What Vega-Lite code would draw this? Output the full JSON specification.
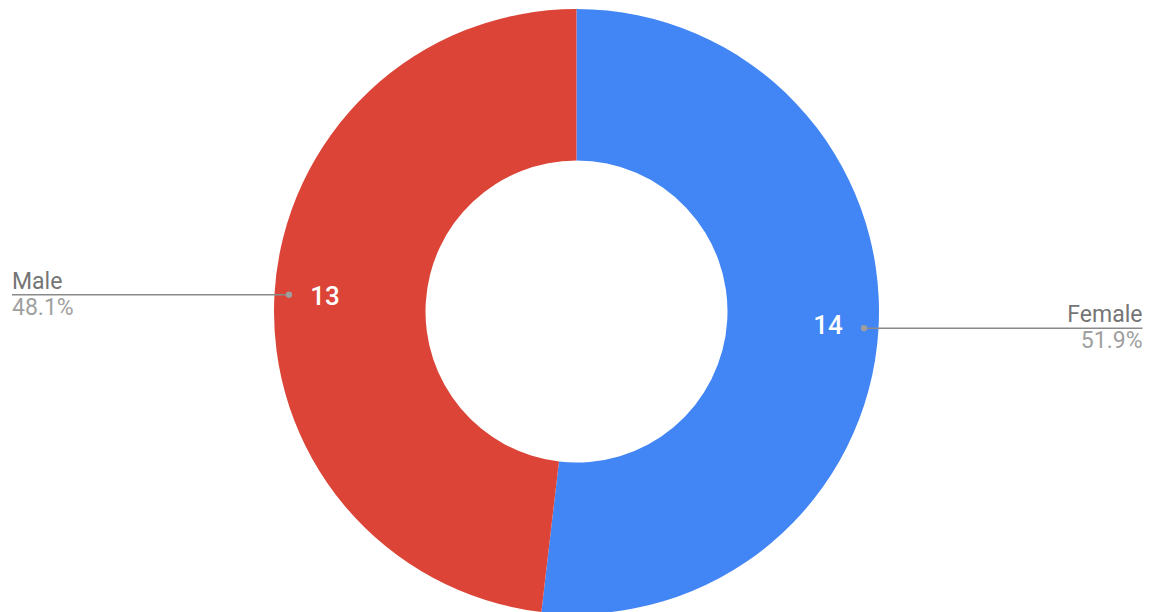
{
  "$schema": "https://vega.github.io/schema/vega-lite/v6.json",
  "width": 1153,
  "height": 601,
  "autosize": {"type": "none"},
  "padding": {"top": 11, "left": 0, "right": 0, "bottom": 0},
  "background": "white",
  "config": {"view": {"stroke": null}, "font": "Roboto"},
  "data": {
    "values": [
      {"gender": "Female", "count": 14, "pct": "51.9%"},
      {"gender": "Male", "count": 13, "pct": "48.1%"}
    ]
  },
  "layer": [
    {
      "mark": {"type": "arc", "innerRadius": 151, "outerRadius": 302.5},
      "encoding": {
        "theta": {"field": "count", "type": "quantitative", "stack": true},
        "color": {
          "field": "gender",
          "type": "nominal",
          "scale": {"domain": ["Female", "Male"], "range": ["#4285F4", "#DB4437"]},
          "legend": null
        },
        "order": {"field": "gender", "sort": "ascending"}
      }
    },
    {
      "transform": [
        {"joinaggregate": [{"op": "sum", "field": "count", "as": "total"}]},
        {"window": [{"op": "sum", "field": "count", "as": "cum"}], "sort": [{"field": "gender", "order": "ascending"}], "frame": [null, 0]},
        {"calculate": "(datum.cum - datum.count / 2) / datum.total * 2 * PI", "as": "mid"},
        {"calculate": "288 * sin(datum.mid)", "as": "dotx"},
        {"calculate": "288 * cos(datum.mid)", "as": "doty"},
        {"calculate": "252 * sin(datum.mid)", "as": "labx"},
        {"calculate": "252 * cos(datum.mid)", "as": "laby"},
        {"calculate": "sin(datum.mid) > 0 ? 566 : -564.5", "as": "edgex"}
      ],
      "layer": [
        {
          "mark": {"type": "rule", "color": "#8a8a8a", "strokeWidth": 1.5},
          "encoding": {
            "x": {"field": "dotx", "type": "quantitative", "scale": {"domain": [-576.5, 576.5], "nice": false, "zero": false}, "axis": null},
            "x2": {"field": "edgex"},
            "y": {"field": "doty", "type": "quantitative", "scale": {"domain": [-300.5, 300.5], "nice": false, "zero": false}, "axis": null}
          }
        },
        {
          "mark": {"type": "point", "filled": true, "color": "#9e9e9e", "size": 40, "opacity": 1},
          "encoding": {
            "x": {"field": "dotx", "type": "quantitative"},
            "y": {"field": "doty", "type": "quantitative"}
          }
        },
        {
          "mark": {"type": "text", "color": "white", "fontSize": 26, "fontWeight": 500, "align": "center", "baseline": "middle"},
          "encoding": {
            "x": {"field": "labx", "type": "quantitative"},
            "y": {"field": "laby", "type": "quantitative"},
            "text": {"field": "count"}
          }
        },
        {
          "mark": {"type": "text", "color": "#757575", "fontSize": 23, "baseline": "alphabetic", "dy": -6, "align": {"expr": "datum.edgex > 0 ? 'right' : 'left'"}},
          "encoding": {
            "x": {"field": "edgex", "type": "quantitative"},
            "y": {"field": "doty", "type": "quantitative"},
            "text": {"field": "gender"}
          }
        },
        {
          "mark": {"type": "text", "color": "#a0a0a0", "fontSize": 23, "baseline": "alphabetic", "dy": 20, "align": {"expr": "datum.edgex > 0 ? 'right' : 'left'"}},
          "encoding": {
            "x": {"field": "edgex", "type": "quantitative"},
            "y": {"field": "doty", "type": "quantitative"},
            "text": {"field": "pct"}
          }
        }
      ]
    }
  ]
}
